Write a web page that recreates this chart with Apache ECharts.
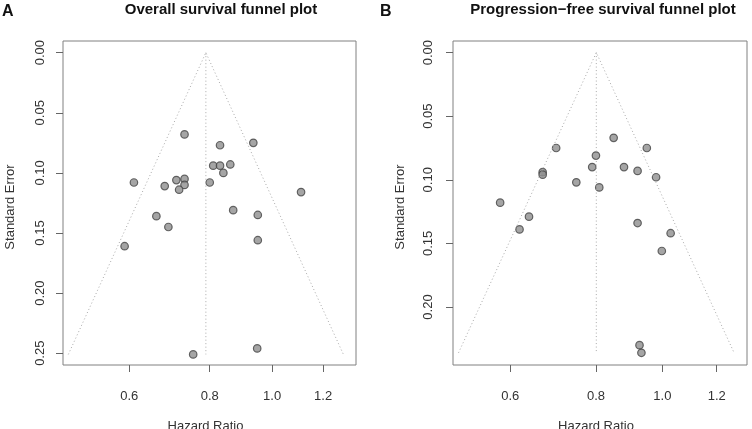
<!DOCTYPE html>
<html>
<head>
<meta charset="utf-8">
<script src="https://cdn.jsdelivr.net/npm/echarts@6/dist/echarts.min.js"></script>
<style>
html,body{margin:0;padding:0;background:#fff;}
#chart{width:752px;height:429px;}
</style>
</head>
<body>
<div id="chart"></div>
<script>
// Panel A: Overall survival
const hrA = [0.731,0.830,0.935,0.810,0.830,0.861,0.840,0.610,0.681,0.710,0.731,0.731,0.717,0.800,1.109,0.661,0.870,0.950,0.690,0.950,0.590,0.948,0.754];
const seA = [0.068,0.077,0.075,0.094,0.094,0.093,0.100,0.108,0.111,0.106,0.105,0.110,0.114,0.108,0.116,0.136,0.131,0.135,0.145,0.156,0.161,0.246,0.251];
const pooledA = 0.789;
// Panel B: Progression-free survival
const hrB = [0.849,0.700,0.949,0.800,0.790,0.879,0.920,0.669,0.669,0.979,0.749,0.809,0.580,0.639,0.619,0.920,1.028,0.998,0.926,0.932];
const seB = [0.067,0.075,0.075,0.081,0.090,0.090,0.093,0.094,0.096,0.098,0.102,0.106,0.118,0.129,0.139,0.134,0.142,0.156,0.230,0.236];
const pooledB = 0.801;
// Tick labels
const xTicks = [0.6, 0.8, 1.0, 1.2];
const yTicksA = [0.00, 0.05, 0.10, 0.15, 0.20, 0.25];
const yTicksB = [0.00, 0.05, 0.10, 0.15, 0.20];
const titleA = 'Overall survival funnel plot';
const titleB = 'Progression\u2212free survival funnel plot';
const xName = 'Hazard Ratio';
const yName = 'Standard Error';

const chart = echarts.init(document.getElementById('chart'), null, {renderer:'canvas'});
const FONT = 'Liberation Sans, Arial, sans-serif';
const txtColor = '#333';
const ln = Math.log;
const PAD = 8; // data grid extends PAD px beyond the plot box (left & bottom) so the outward ticks fall inside it

function pts(hr, se){ return hr.map((h,i)=>[ln(h), se[i]]); }
function funnel(pooled, se){
  const m = Math.max(...se), c = ln(pooled);
  return [[c-1.96*m, m],[c,0],[c+1.96*m, m]];
}
function center(pooled, se){
  const m = Math.max(...se), c = ln(pooled);
  return [[c,0],[c,m]];
}
// box: plot-box geometry (px) and value ranges inside it
const boxA = {left:63, top:41, width:293, height:324, xmin:-0.748, xmax:0.300, ymin:-0.0097, ymax:0.2598};
const boxB = {left:453, top:41, width:294, height:324, xmin:-0.703, xmax:0.284, ymin:-0.0091, ymax:0.2456};
function dataGrid(b){ return {left:b.left-PAD, top:b.top, width:b.width+PAD, height:b.height+PAD, show:false, outerBoundsMode:'none', containLabel:false}; }
function boxGrid(b){ return {left:b.left, top:b.top, width:b.width, height:b.height, show:true, borderColor:'#808080', borderWidth:1, backgroundColor:'transparent', outerBoundsMode:'none', containLabel:false}; }
function xAxis(gi, b, helperY){
  const ppu = b.width/(b.xmax-b.xmin);
  return {
    type:'value', gridIndex:gi, min:b.xmin-PAD/ppu, max:b.xmax, position:'bottom',
    axisLine:{show:false, onZero:true, onZeroAxisIndex:helperY},
    splitLine:{show:false},
    axisTick:{show:true, inside:false, length:7, lineStyle:{color:'#666', width:1}, customValues: xTicks.map(ln)},
    axisLabel:{show:true, customValues: xTicks.map(ln), formatter:v=>Math.exp(v).toFixed(1), fontSize:13, fontFamily:FONT, color:txtColor, margin:17},
    name:xName, nameLocation:'middle', nameGap:47, nameTextStyle:{fontSize:13, fontFamily:FONT, color:txtColor}
  };
}
function yAxis(gi, b, ticks, helperX, lblMargin){
  const ppu = b.height/(b.ymax-b.ymin);
  return {
    type:'value', gridIndex:gi, min:b.ymin, max:b.ymax+PAD/ppu, inverse:true, position:'left',
    axisLine:{show:false, onZero:true, onZeroAxisIndex:helperX},
    splitLine:{show:false},
    axisTick:{show:true, inside:false, length:7, lineStyle:{color:'#666', width:1}, customValues: ticks},
    axisLabel:{show:true, customValues: ticks, formatter:v=>v.toFixed(2), rotate:90, fontSize:13, fontFamily:FONT, color:txtColor, margin:lblMargin},
    name:yName, nameLocation:'middle', nameRotate:90, nameGap:38, nameTextStyle:{fontSize:13, fontFamily:FONT, color:txtColor}
  };
}
// hidden helper axes: their zero sits on the plot-box edge
function helperX(gi, b){ return {type:'value', gridIndex:gi, min:-PAD, max:b.width, show:false}; }
function helperY(gi, b){ return {type:'value', gridIndex:gi, min:-PAD, max:b.height, show:false}; }
function hiddenAxis(gi){ return {type:'value', gridIndex:gi, min:0, max:1, show:false}; }

const dotLine = {color:'#aaa', width:1, type:[1,2.5]};
const scatterStyle = {color:'#8f8f8f', borderColor:'#444', borderWidth:1.2};
const titleStyle = {fontSize:15, fontWeight:'bold', fontFamily:FONT, color:'#111'};

const option = {
  backgroundColor:'#fff',
  animation:false,
  title:[
    {text:titleA, left:221, top:2, padding:0, textAlign:'center', textStyle:titleStyle},
    {text:titleB, left:603, top:2, padding:0, textAlign:'center', textStyle:titleStyle},
    {text:'A', left:2, top:4, padding:0, textStyle:Object.assign({}, titleStyle, {fontSize:16})},
    {text:'B', left:380, top:4, padding:0, textStyle:Object.assign({}, titleStyle, {fontSize:16})}
  ],
  grid:[ dataGrid(boxA), dataGrid(boxB), boxGrid(boxA), boxGrid(boxB) ],
  // x: 0,1 data; 2,3 helpers; 4,5 box
  xAxis:[ xAxis(0, boxA, 2), xAxis(1, boxB, 3), helperX(0, boxA), helperX(1, boxB), hiddenAxis(2), hiddenAxis(3) ],
  // y: 0,1 data; 2,3 helpers; 4,5 box
  yAxis:[ yAxis(0, boxA, yTicksA, 2, 8), yAxis(1, boxB, yTicksB, 3, 10), helperY(0, boxA), helperY(1, boxB), hiddenAxis(2), hiddenAxis(3) ],
  series:[
    {type:'line', xAxisIndex:0, yAxisIndex:0, data:funnel(pooledA, seA), symbol:'none', lineStyle:dotLine, silent:true},
    {type:'line', xAxisIndex:0, yAxisIndex:0, data:center(pooledA, seA), symbol:'none', lineStyle:dotLine, silent:true},
    {type:'scatter', xAxisIndex:0, yAxisIndex:0, data:pts(hrA, seA), symbolSize:7.5, itemStyle:scatterStyle},
    {type:'line', xAxisIndex:1, yAxisIndex:1, data:funnel(pooledB, seB), symbol:'none', lineStyle:dotLine, silent:true},
    {type:'line', xAxisIndex:1, yAxisIndex:1, data:center(pooledB, seB), symbol:'none', lineStyle:dotLine, silent:true},
    {type:'scatter', xAxisIndex:1, yAxisIndex:1, data:pts(hrB, seB), symbolSize:7.5, itemStyle:scatterStyle}
  ]
};
chart.setOption(option);
</script>
</body>
</html>
